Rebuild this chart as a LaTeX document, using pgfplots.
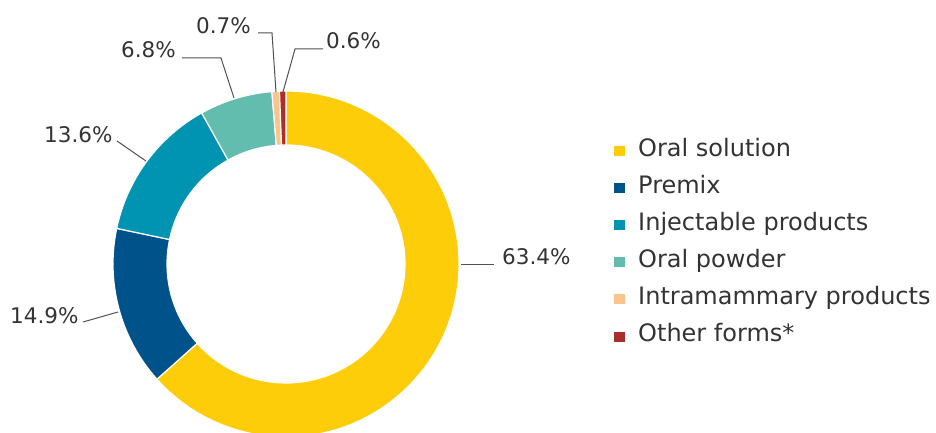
\documentclass[border=0pt]{standalone}
\usepackage{pgfplots}
\usepackage{pgfplotstable}
\usepackage{fontspec}
\setmainfont{DejaVu Sans}
\pgfplotsset{compat=1.18}

\definecolor{cOralSol}{HTML}{FECD0A}
\definecolor{cPremix}{HTML}{00538A}
\definecolor{cInject}{HTML}{0093B2}
\definecolor{cPowder}{HTML}{63BDAE}
\definecolor{cIntra}{HTML}{FDC38D}
\definecolor{cOther}{HTML}{A8302A}
\definecolor{txt}{HTML}{333333}
\definecolor{leader}{HTML}{505050}

% share of sales by pharmaceutical form (%)
\pgfplotstableread{
name                      value  col
{Oral solution}           63.4   cOralSol
{Premix}                  14.9   cPremix
{Injectable products}     13.6   cInject
{Oral powder}             6.8    cPowder
{Intramammary products}   0.7    cIntra
{Other forms*}            0.6    cOther
}\shares

\begin{document}
\begin{tikzpicture}
\begin{axis}[
  width=936pt, height=432pt, scale only axis,
  xmin=0, xmax=936, ymin=0, ymax=432,
  hide axis, clip=true,
]
% ring segments, clockwise from 12 o'clock
\def\cum{0}
\pgfplotsforeachungrouped \i in {0,...,5}{
  \pgfplotstablegetelem{\i}{value}\of\shares \let\v\pgfplotsretval
  \pgfplotstablegetelem{\i}{col}\of\shares \let\c\pgfplotsretval
  \pgfplotstablegetelem{\i}{name}\of\shares \let\n\pgfplotsretval
  \pgfmathsetmacro\aA{90-3.6*\cum}
  \pgfmathsetmacro\cum{\cum+\v}
  \pgfmathsetmacro\aB{90-3.6*\cum}
  \pgfmathsetmacro\ly{276-37.1*\i}
  \edef\cmd{%
    \noexpand\fill[\c, draw=white, line width=1.2pt, shift={(axis cs:286,168)}]
      (\aA:173pt) arc[start angle=\aA, end angle=\aB, radius=173pt]
      -- (\aB:119pt) arc[start angle=\aB, end angle=\aA, radius=119pt] -- cycle;
    \noexpand\fill[\c] (axis cs:614,\ly) rectangle (axis cs:625,\ly+10);
    \noexpand\node[anchor=base west, inner sep=0pt, text=txt, font=\noexpand\fontsize{24}{28}\noexpand\selectfont]
      at (axis cs:638,\ly) {\n};
  }
  \cmd
}
% leader lines
\draw[leader, line width=1pt] (axis cs:461,168) -- (axis cs:494,168);
\draw[leader, line width=1pt] (axis cs:83,110) -- (axis cs:118,120);
\draw[leader, line width=1pt] (axis cs:117,291) -- (axis cs:146,271);
\draw[leader, line width=1pt] (axis cs:182,374) -- (axis cs:221,374) -- (axis cs:234,334);
\draw[leader, line width=1pt] (axis cs:258,399) -- (axis cs:272,399) -- (axis cs:276,340);
\draw[leader, line width=1pt] (axis cs:323,383) -- (axis cs:295,383) -- (axis cs:283,340);
% value labels
\begin{scope}[every node/.style={inner sep=0pt, text=txt, font=\fontsize{21.5}{26}\selectfont}]
\node[anchor=base west] at (axis cs:502,168) {63.4\%};
\node[anchor=base west] at (axis cs:10,109) {14.9\%};
\node[anchor=base west] at (axis cs:44,290) {13.6\%};
\node[anchor=base east] at (axis cs:176,374) {6.8\%};
\node[anchor=base east] at (axis cs:251,398) {0.7\%};
\node[anchor=base west] at (axis cs:326,383) {0.6\%};
\end{scope}
\end{axis}
\pgfresetboundingbox
\path (current axis.south west) rectangle (current axis.north east);
\end{tikzpicture}
\end{document}
